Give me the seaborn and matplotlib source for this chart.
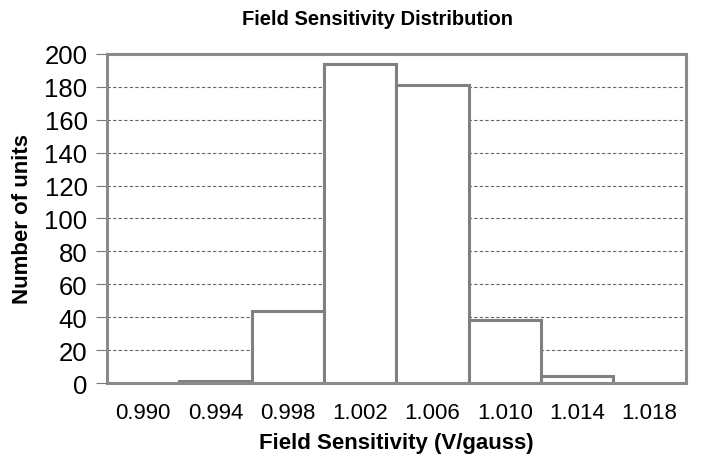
import matplotlib
matplotlib.use("Agg")
import matplotlib.pyplot as plt
import seaborn as sns
import pandas as pd

categories = ["0.990", "0.994", "0.998", "1.002", "1.006", "1.010", "1.014", "1.018"]
counts = [0, 1, 44, 194, 181, 38, 4, 0]
yticks = list(range(0, 201, 20))

sns.set_style("white")
plt.rcParams['font.family'] = ['Liberation Sans', 'DejaVu Sans']
plt.rcParams['text.color'] = 'black'
plt.rcParams['axes.labelcolor'] = 'black'
plt.rcParams['xtick.color'] = 'black'
plt.rcParams['ytick.color'] = 'black'

df = pd.DataFrame({"x": categories, "y": counts})

fig = plt.figure(figsize=(7.02, 4.64), dpi=100)
ax = fig.add_axes([0.1524, 0.1724, 0.8246, 0.7091])

for t in yticks[1:]:
    ax.axhline(t, color="#666666", lw=0.8, ls=(0, (3, 2)), zorder=0)

sns.barplot(data=df, x="x", y="y", color="white", width=1.0, edgecolor="#808080",
            linewidth=2.2, ax=ax, zorder=2, saturation=1)

ax.set_xlim(-0.5, 7.5)
ax.set_ylim(0, 200)
ax.set_yticks(yticks)
ax.set_yticklabels([str(t) for t in yticks], fontsize=18.5)
ax.tick_params(axis="y", which="both", left=True, length=8, width=0.8, color="#777777",
               labelcolor="black", pad=6)
ax.tick_params(axis="x", bottom=False, labelsize=16, labelcolor="black", pad=10)
for s in ax.spines.values():
    s.set_color("#8a8a8a")
    s.set_linewidth(2.2)
    s.set_zorder(3)

ax.set_xlabel("Field Sensitivity (V/gauss)", fontsize=16, fontweight="bold", labelpad=7,
              color="black")
ax.set_ylabel("Number of units", fontsize=16, fontweight="bold", labelpad=8, color="black")
fig.text(0.538, 0.957, "Field Sensitivity Distribution", ha="center", va="center",
         fontsize=14.5, fontweight="bold", color="black")

fig.savefig("out.png", dpi=100)
